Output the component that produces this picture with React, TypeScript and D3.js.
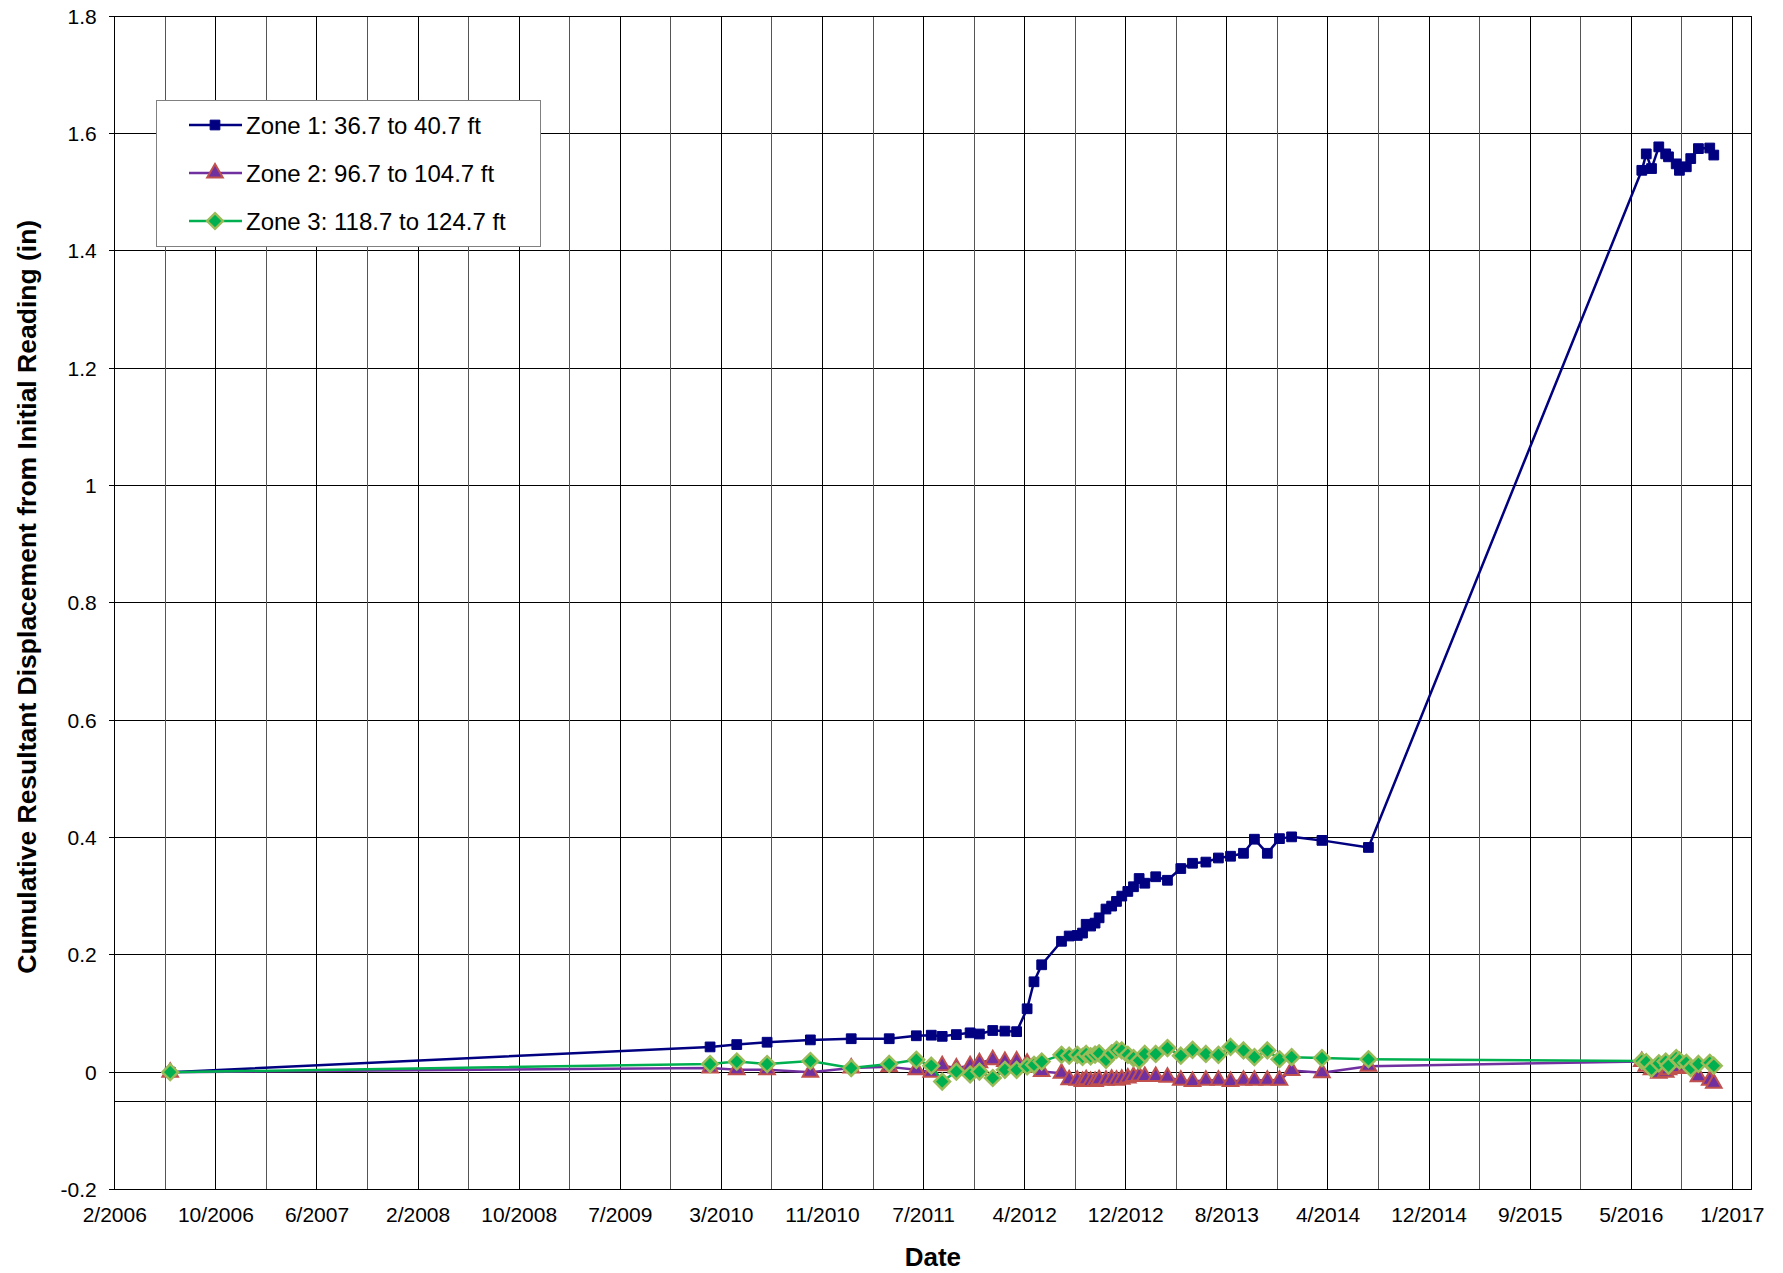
import React, { useEffect, useRef } from 'react';
import * as d3 from 'd3';

// reading dates (shared by the three zones)
const readingDates = [
  '2006-06-18',
  '2010-02-12', '2010-04-19', '2010-07-03', '2010-10-18', '2011-01-27', '2011-05-01',
  '2011-07-07', '2011-08-13', '2011-09-09', '2011-10-14', '2011-11-17', '2011-12-10',
  '2012-01-12', '2012-02-11', '2012-03-11', '2012-04-06', '2012-04-23', '2012-05-12',
  '2012-06-30', '2012-07-19', '2012-08-08', '2012-08-21', '2012-08-30', '2012-09-10',
  '2012-09-21', '2012-10-01', '2012-10-18', '2012-11-01', '2012-11-13', '2012-11-26',
  '2012-12-11', '2012-12-25', '2013-01-08', '2013-01-22', '2013-02-18', '2013-03-19',
  '2013-04-21', '2013-05-20', '2013-06-22', '2013-07-23', '2013-08-22', '2013-09-23',
  '2013-10-20', '2013-11-21', '2013-12-21', '2014-01-20', '2014-04-05', '2014-07-29',
  '2016-06-04', '2016-06-15', '2016-06-28', '2016-07-16', '2016-08-02', '2016-08-09',
  '2016-08-28', '2016-09-05', '2016-09-22', '2016-10-03', '2016-10-22', '2016-11-19',
  '2016-11-29',
];

const zone1 = [
  0,
  0.043, 0.047, 0.051, 0.055, 0.057, 0.057,
  0.062, 0.063, 0.061, 0.064, 0.067, 0.065,
  0.071, 0.070, 0.069, 0.108, 0.154, 0.183,
  0.223, 0.232, 0.233, 0.237, 0.252, 0.249,
  0.254, 0.263, 0.278, 0.283, 0.291, 0.300,
  0.308, 0.316, 0.330, 0.322, 0.333, 0.327,
  0.347, 0.356, 0.358, 0.365, 0.368, 0.373,
  0.397, 0.373, 0.398, 0.401, 0.395, 0.383,
  1.537, 1.565, 1.540, 1.577, 1.565, 1.560,
  1.548, 1.537, 1.543, 1.557, 1.574, 1.575,
  1.563,
];

const zone2 = [
  0,
  0.007, 0.004, 0.004, 0.000, 0.007, 0.009,
  0.004, 0.000, 0.011, 0.007, 0.011, 0.016,
  0.021, 0.018, 0.019, 0.015, 0.008, 0.001,
  -0.002, -0.013, -0.014, -0.016, -0.013, -0.016,
  -0.016, -0.013, -0.014, -0.012, -0.014, -0.012,
  -0.010, -0.0075, -0.0066, -0.0075, -0.0075, -0.0085,
  -0.014, -0.016, -0.014, -0.014, -0.016, -0.014,
  -0.014, -0.014, -0.014, 0.003, -0.001, 0.010,
  0.018, 0.010, 0.004, -0.002, 0.000, 0.004,
  0.006, 0.008, 0.009, 0.006, -0.008, -0.014,
  -0.019,
];

const zone3 = [
  0,
  0.0137, 0.018, 0.0137, 0.019, 0.007, 0.014,
  0.021, 0.011, -0.016, 0.001, -0.004, 0.001,
  -0.010, 0.004, 0.004, 0.010, 0.0125, 0.018,
  0.0295, 0.028, 0.0295, 0.026, 0.031, 0.027,
  0.030, 0.032, 0.021, 0.032, 0.038, 0.037,
  0.0295, 0.024, 0.020, 0.031, 0.031, 0.041,
  0.028, 0.038, 0.031, 0.0295, 0.043, 0.037,
  0.0256, 0.037, 0.022, 0.0256, 0.024, 0.022,
  0.019, 0.017, 0.006, 0.015, 0.018, 0.011,
  0.024, 0.020, 0.016, 0.007, 0.014, 0.016,
  0.011,
];

const seriesNames = ['Zone 1: 36.7 to 40.7 ft', 'Zone 2: 96.7 to 104.7 ft', 'Zone 3: 118.7 to 124.7 ft'];

const xTickLabels = [
  '2/2006', '10/2006', '6/2007', '2/2008', '10/2008', '7/2009', '3/2010', '11/2010', '7/2011',
  '4/2012', '12/2012', '8/2013', '4/2014', '12/2014', '9/2015', '5/2016', '1/2017',
];
const xAxisStart = '2006-02-01';
const xAxisEnd = '2017-03-01';
const xMajorDays = 250;

const yTickValues = [-0.2, 0, 0.2, 0.4, 0.6, 0.8, 1, 1.2, 1.4, 1.6, 1.8];

// square-shaped diamond (Excel style) instead of d3's tall one
const diamond = {
  draw(ctx: any, size: number) {
    const r = Math.sqrt(size / 2);
    ctx.moveTo(0, -r);
    ctx.lineTo(r, 0);
    ctx.lineTo(0, r);
    ctx.lineTo(-r, 0);
    ctx.closePath();
  },
};

export default function App() {
  const ref = useRef<SVGSVGElement>(null);

  useEffect(() => {
    document.body.style.margin = '0';
    const svg = d3.select(ref.current);
    svg.selectAll('*').remove();

    const font = "'Liberation Sans', Arial, sans-serif";
    const parse = d3.utcParse('%Y-%m-%d');
    const left = 114.8, right = 1751, top = 16, bottom = 1189.5;

    const x = d3.scaleUtc()
      .domain([parse(xAxisStart)!, parse(xAxisEnd)!])
      .range([left, right]);
    const y = d3.scaleLinear().domain([-0.2, 1.8]).range([bottom, top]);

    const grid = svg.append('g').attr('shape-rendering', 'crispEdges');

    // horizontal gridlines
    yTickValues.forEach(v => {
      grid.append('line')
        .attr('x1', left - 6).attr('x2', right)
        .attr('y1', y(v)).attr('y2', y(v))
        .attr('stroke', '#000').attr('stroke-width', 1);
    });
    // line below zero
    grid.append('line')
      .attr('x1', left).attr('x2', right)
      .attr('y1', y(-0.05)).attr('y2', y(-0.05))
      .attr('stroke', '#000').attr('stroke-width', 1);

    // vertical gridlines (major + minor every half major)
    const start = parse(xAxisStart)!;
    const nMinor = (xTickLabels.length - 1) * 2;
    for (let k = 0; k <= nMinor; k++) {
      const d = d3.utcDay.offset(start, (k * xMajorDays) / 2);
      grid.append('line')
        .attr('x1', x(d)).attr('x2', x(d))
        .attr('y1', top).attr('y2', bottom)
        .attr('stroke', k % 2 === 0 ? '#000' : '#555').attr('stroke-width', 1);
    }
    // plot frame
    grid.append('rect')
      .attr('x', left).attr('y', top)
      .attr('width', right - left).attr('height', bottom - top)
      .attr('fill', 'none').attr('stroke', '#000').attr('stroke-width', 1);

    // y tick labels
    svg.append('g').selectAll('text').data(yTickValues).join('text')
      .attr('x', left - 18).attr('y', d => y(d))
      .attr('dy', '0.36em')
      .attr('text-anchor', 'end')
      .attr('font-family', font).attr('font-size', 21)
      .text(d => `${+d.toFixed(1)}`);

    // x tick labels
    svg.append('g').selectAll('text').data(xTickLabels).join('text')
      .attr('x', (_, i) => x(d3.utcDay.offset(start, i * xMajorDays)))
      .attr('y', 1214)
      .attr('dy', '0.36em')
      .attr('text-anchor', 'middle')
      .attr('font-family', font).attr('font-size', 21)
      .text(d => d);

    // axis titles
    svg.append('text')
      .attr('x', (left + right) / 2).attr('y', 1257).attr('dy', '0.36em')
      .attr('text-anchor', 'middle')
      .attr('font-family', font).attr('font-size', 26).attr('font-weight', 'bold')
      .text('Date');
    svg.append('text')
      .attr('transform', `translate(26,${(top + bottom) / 2 - 6}) rotate(-90)`)
      .attr('dy', '0.36em')
      .attr('text-anchor', 'middle')
      .attr('font-family', font).attr('font-size', 26.5).attr('font-weight', 'bold')
      .text('Cumulative Resultant Displacement from Initial Reading (in)');

    const dates = readingDates.map(s => parse(s)!);
    const series = [
      { values: zone1, line: '#000080', fill: '#000080', stroke: '#000080', sym: d3.symbolSquare as any, size: 95, sw: 1 },
      { values: zone2, line: '#7030A0', fill: '#7030A0', stroke: '#C0504D', sym: d3.symbolTriangle as any, size: 105, sw: 2 },
      { values: zone3, line: '#00B050', fill: '#00B050', stroke: '#9BBB59', sym: diamond as any, size: 125, sw: 2.4 },
    ];

    series.forEach(s => {
      const pts = s.values.map((v, i) => [dates[i], v] as [Date, number]);
      const line = d3.line<[Date, number]>().x(d => x(d[0])).y(d => y(d[1]));
      const g = svg.append('g');
      g.append('path')
        .attr('d', line(pts))
        .attr('fill', 'none').attr('stroke', s.line).attr('stroke-width', 2.5)
        .attr('stroke-linejoin', 'round');
      g.selectAll('path.m').data(pts).join('path')
        .attr('class', 'm')
        .attr('transform', d => `translate(${x(d[0])},${y(d[1])})`)
        .attr('d', d3.symbol().type(s.sym).size(s.size)())
        .attr('fill', s.fill).attr('stroke', s.stroke).attr('stroke-width', s.sw);
    });

    // legend
    const lg = svg.append('g');
    lg.append('rect')
      .attr('x', 156).attr('y', 100).attr('width', 384).attr('height', 146)
      .attr('fill', '#fff').attr('stroke', '#808080').attr('stroke-width', 1)
      .attr('shape-rendering', 'crispEdges');
    const legendY = d3.scalePoint<number>().domain([0, 1, 2]).range([125, 221]);
    series.forEach((s, i) => {
      const yy = legendY(i)!;
      lg.append('line')
        .attr('x1', 189).attr('x2', 242).attr('y1', yy).attr('y2', yy)
        .attr('stroke', s.line).attr('stroke-width', 2.5);
      lg.append('path')
        .attr('transform', `translate(215,${yy})`)
        .attr('d', d3.symbol().type(s.sym).size(s.size)())
        .attr('fill', s.fill).attr('stroke', s.stroke).attr('stroke-width', s.sw);
      lg.append('text')
        .attr('x', 246).attr('y', yy).attr('dy', '0.36em')
        .attr('font-family', font).attr('font-size', 24)
        .text(seriesNames[i]);
    });
  }, []);

  return <svg ref={ref} width={1783} height={1273} style={{ display: 'block', background: '#fff' }} />;
}
